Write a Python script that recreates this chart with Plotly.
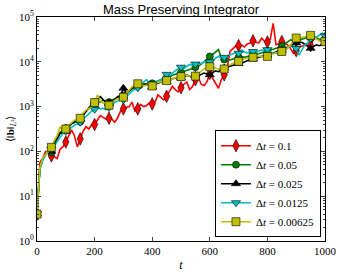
import plotly.graph_objects as go

# time axis (t = 0, 10, ..., 1000)
t = list(range(0, 1001, 10))

# log10 of <||b||_{L^2}>, one value per 10 time units
log_b_dt_0_1 = [0.60, 1.75, 1.85, 2.00, 1.95, 1.90, 1.88, 1.84, 2.05, 2.10,
                2.21, 2.35, 2.48, 2.35, 2.10, 2.28, 2.45, 2.55, 2.50, 2.60,
                2.60, 2.70, 2.80, 2.76, 2.72, 2.74, 2.72, 2.65, 2.75, 2.90,
                2.95, 2.98, 3.00, 3.10, 2.90, 2.95, 3.05, 3.00, 3.02, 3.08,
                3.06, 3.10, 3.26, 3.20, 3.15, 3.23, 3.35, 3.45, 3.38, 3.33,
                3.42, 3.50, 3.55, 3.38, 3.45, 3.60, 3.66, 3.50, 3.47, 3.55,
                3.74, 3.63, 3.52, 3.41, 3.60, 3.71, 3.85, 4.23, 4.30, 4.35,
                4.36, 4.38, 4.33, 4.40, 4.42, 4.47, 4.44, 4.42, 4.53, 4.46,
                4.44, 4.50, 4.86, 4.38, 4.40, 4.45, 4.42, 4.38, 4.30, 4.19,
                4.25, 4.32, 4.35, 4.38, 4.34, 4.36, 4.50, 4.55, 4.48, 4.50,
                4.52]
log_b_dt_0_05 = [0.60, 1.63, 1.84, 1.95, 2.03, 1.98, 2.18, 2.30, 2.42, 2.48,
                 2.52, 2.58, 2.62, 2.64, 2.70, 2.66, 2.82, 2.90, 2.96, 3.02,
                 3.00, 3.12, 3.10, 3.14, 3.12, 3.10, 3.15, 3.18, 3.20, 3.22,
                 3.25, 3.30, 3.36, 3.40, 3.44, 3.46, 3.50, 3.52, 3.50, 3.48,
                 3.52, 3.55, 3.58, 3.60, 3.62, 3.64, 3.66, 3.70, 3.72, 3.74,
                 3.76, 3.78, 3.80, 3.82, 3.85, 3.88, 3.90, 3.95, 4.00, 4.05,
                 4.12, 4.15, 4.20, 4.27, 4.10, 4.05, 4.02, 4.04, 4.06, 4.08,
                 4.10, 4.12, 4.10, 4.12, 4.14, 4.16, 4.17, 4.18, 4.20, 4.22,
                 4.24, 4.25, 4.28, 4.30, 4.32, 4.35, 4.40, 4.45, 4.49, 4.47,
                 4.45, 4.48, 4.50, 4.52, 4.55, 4.53, 4.55, 4.52, 4.50, 4.50,
                 4.48]
log_b_dt_0_025 = [0.60, 1.62, 1.82, 1.93, 2.00, 2.00, 2.15, 2.28, 2.40, 2.42,
                  2.45, 2.55, 2.62, 2.66, 2.70, 2.72, 2.80, 2.88, 2.96, 3.05,
                  3.10, 3.15, 3.22, 3.15, 3.10, 3.08, 3.12, 3.16, 3.22, 3.25,
                  3.41, 3.30, 3.35, 3.40, 3.45, 3.46, 3.44, 3.48, 3.50, 3.47,
                  3.44, 3.50, 3.52, 3.55, 3.58, 3.56, 3.58, 3.62, 3.64, 3.65,
                  3.64, 3.66, 3.70, 3.68, 3.66, 3.70, 3.68, 3.72, 3.75, 3.73,
                  3.71, 3.76, 3.80, 3.78, 3.83, 3.86, 3.88, 3.90, 3.92, 3.95,
                  3.96, 3.97, 4.00, 4.02, 4.05, 4.06, 4.08, 4.10, 4.12, 4.13,
                  4.15, 4.18, 4.20, 4.22, 4.25, 4.26, 4.28, 4.32, 4.35, 4.40,
                  4.42, 4.44, 4.43, 4.40, 4.36, 4.30, 4.34, 4.38, 4.36, 4.38,
                  4.42]
log_b_dt_0_0125 = [0.60, 1.60, 1.80, 1.92, 2.00, 2.05, 2.12, 2.22, 2.30, 2.40,
                   2.45, 2.50, 2.55, 2.58, 2.62, 2.65, 2.72, 2.78, 2.85, 2.90,
                   2.94, 2.98, 2.95, 2.96, 2.93, 2.98, 3.05, 3.10, 3.12, 3.18,
                   3.15, 3.22, 3.30, 3.35, 3.38, 3.42, 3.50, 3.55, 3.60, 3.52,
                   3.50, 3.55, 3.58, 3.60, 3.65, 3.72, 3.68, 3.75, 3.80, 3.84,
                   3.88, 3.85, 3.90, 3.94, 3.92, 3.95, 3.98, 3.96, 4.00, 3.98,
                   4.00, 4.03, 4.08, 4.12, 4.09, 4.10, 4.12, 4.15, 4.18, 4.20,
                   4.19, 4.26, 4.22, 4.20, 4.23, 4.23, 4.20, 4.24, 4.26, 4.25,
                   4.27, 4.22, 4.18, 4.20, 4.15, 4.28, 4.30, 4.32, 4.35, 4.34,
                   4.30, 4.15, 4.25, 4.38, 4.42, 4.52, 4.50, 4.55, 4.60, 4.64,
                   4.58]
log_b_dt_0_00625 = [0.60, 1.65, 1.85, 1.95, 2.02, 2.09, 2.25, 2.35, 2.55, 2.45,
                    2.50, 2.58, 2.63, 2.70, 2.68, 2.74, 2.85, 2.92, 2.95, 3.00,
                    3.09, 3.26, 3.12, 3.08, 3.06, 3.03, 3.10, 3.14, 3.18, 3.16,
                    3.21, 3.30, 3.38, 3.44, 3.48, 3.51, 3.49, 3.46, 3.48, 3.46,
                    3.46, 3.50, 3.54, 3.56, 3.55, 3.58, 3.60, 3.63, 3.65, 3.66,
                    3.67, 3.69, 3.70, 3.68, 3.70, 3.68, 3.74, 3.80, 3.84, 3.86,
                    3.89, 3.88, 3.86, 3.84, 3.85, 3.84, 3.90, 3.94, 3.97, 3.99,
                    4.01, 4.04, 4.07, 4.08, 4.10, 4.10, 4.11, 4.12, 4.12, 4.13,
                    4.12, 4.16, 4.18, 4.20, 4.22, 4.23, 4.26, 4.30, 4.38, 4.47,
                    4.53, 4.52, 4.55, 4.56, 4.58, 4.59, 4.55, 4.50, 4.47, 4.45,
                    4.45]

labels = ["Δ<i>t</i> = 0.1", "Δ<i>t</i> = 0.05", "Δ<i>t</i> = 0.025",
          "Δ<i>t</i> = 0.0125", "Δ<i>t</i> = 0.00625"]
series = [log_b_dt_0_1, log_b_dt_0_05, log_b_dt_0_025, log_b_dt_0_0125, log_b_dt_0_00625]
colors = ["#ff0000", "#008000", "#000000", "#00bfbf", "#bfbf00"]
symbols = ["diamond-tall", "circle", "triangle-up", "triangle-down", "square"]
sizes = [9, 7, 8, 8, 8]

y_tick_vals = [1, 10, 100, 1000, 10000, 100000]
y_tick_text = ["10<sup>0</sup>", "10<sup>1</sup>", "10<sup>2</sup>",
               "10<sup>3</sup>", "10<sup>4</sup>", "10<sup>5</sup>"]
x_tick_vals = [0, 200, 400, 600, 800, 1000]

fig = go.Figure()
for lab, s, c, sym, sz in zip(labels, series, colors, symbols, sizes):
    vals = [10 ** v for v in s]
    fig.add_trace(go.Scatter(x=t, y=vals, mode="lines", line=dict(color=c, width=1.6),
                             showlegend=False, hoverinfo="skip"))
    fig.add_trace(go.Scatter(x=t[::5], y=vals[::5], mode="markers",
                             marker=dict(color=c, symbol=sym, size=sz,
                                         line=dict(color="#000000", width=0.6)),
                             showlegend=False, hoverinfo="skip"))
    # legend entry
    fig.add_trace(go.Scatter(x=[None], y=[None], mode="lines+markers", name=lab,
                             line=dict(color=c, width=1.6),
                             marker=dict(color=c, symbol=sym, size=sz,
                                         line=dict(color="#000000", width=0.6))))

serif = "Liberation Serif"
fig.update_layout(
    width=341, height=273,
    margin=dict(l=37, r=16, t=17, b=32),
    paper_bgcolor="white", plot_bgcolor="white",
    title=dict(text="Mass Preserving Integrator", x=0.5, xref="paper",
               y=1 - 9 / 273, yref="container", yanchor="middle", xanchor="center",
               font=dict(family="Liberation Sans", size=13, color="black")),
    showlegend=True,
    legend=dict(x=0.986, y=0.017, xanchor="right", yanchor="bottom",
                bordercolor="black", borderwidth=1, bgcolor="white",
                font=dict(family=serif, size=11, color="black"),
                itemwidth=30, tracegroupgap=0),
    font=dict(family=serif, size=11, color="black"),
)
fig.update_xaxes(range=[0, 1000], tickvals=x_tick_vals, ticks="inside", ticklen=4,
                 mirror="allticks", showline=True, linecolor="black", linewidth=1,
                 showgrid=False, zeroline=False, automargin=False,
                 tickfont=dict(family=serif, size=11, color="black"),
                 title=dict(text="<i>t</i>", font=dict(family=serif, size=12), standoff=4))
fig.update_yaxes(type="log", range=[0, 5], tickvals=y_tick_vals, ticktext=y_tick_text,
                 ticks="inside", ticklen=4, mirror="allticks", showline=True,
                 linecolor="black", linewidth=1, showgrid=False, zeroline=False,
                 automargin=False,
                 minor=dict(ticks="inside", ticklen=2, dtick="D1", showgrid=False),
                 tickfont=dict(family=serif, size=11, color="black"),
                 title=dict(text="⟨‖<b>b</b>‖<sub><i>L</i>²</sub>⟩",
                            font=dict(family=serif, size=11), standoff=2))

fig.write_html("out.html", config={"displayModeBar": False},
               post_script="document.body.style.margin='0px';")
